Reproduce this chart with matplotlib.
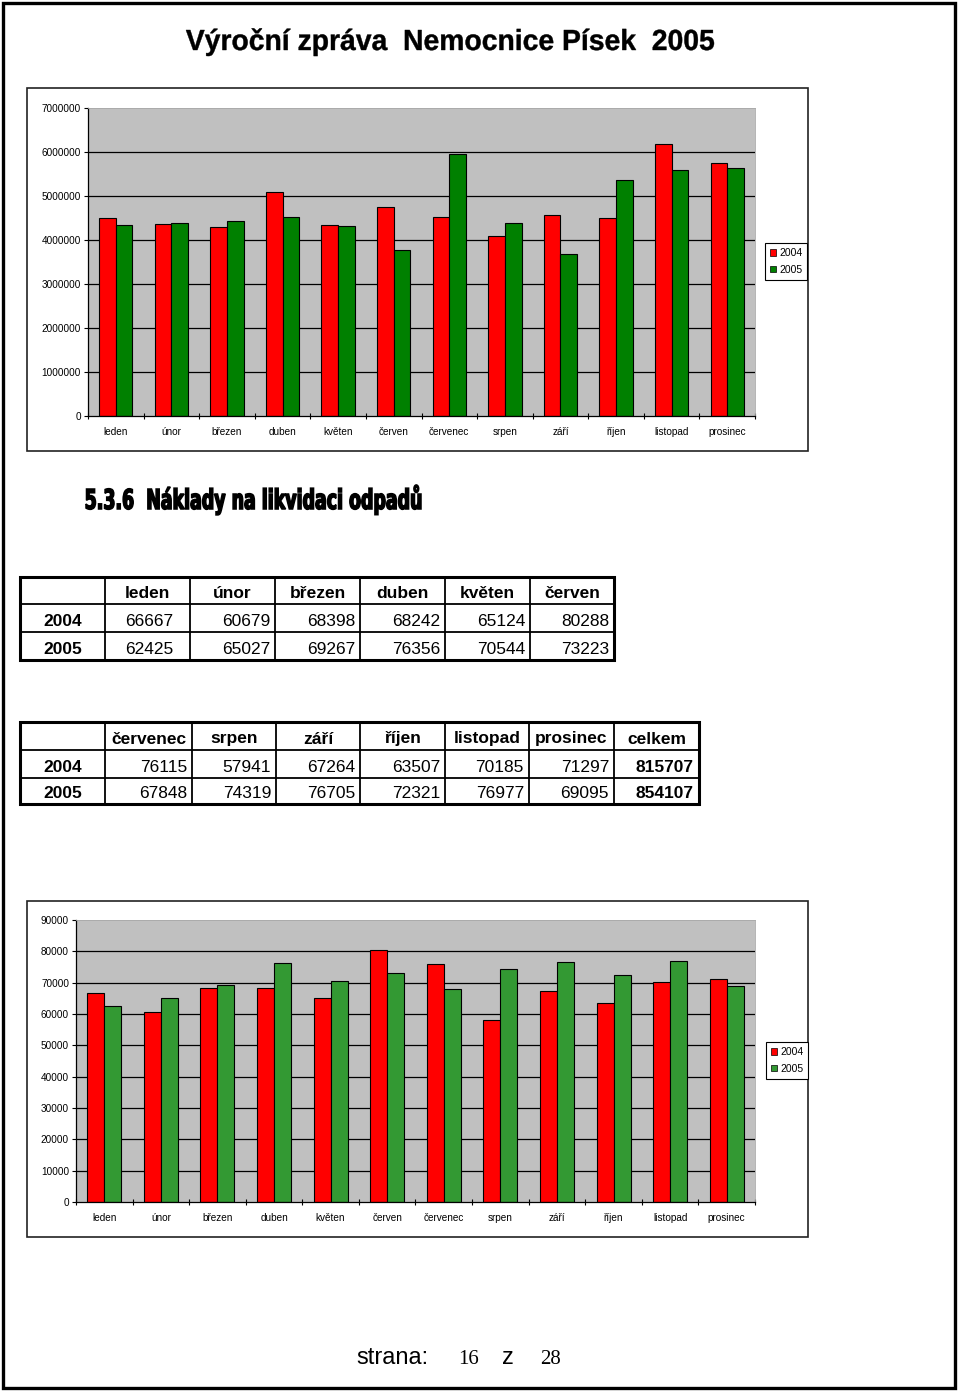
import numpy as np
import matplotlib
matplotlib.use("Agg")
import matplotlib.pyplot as plt
from matplotlib.patches import Rectangle, Patch, PathPatch
from matplotlib.textpath import TextPath
from matplotlib.font_manager import FontProperties
from matplotlib.transforms import Affine2D

plt.rcParams['font.family'] = ['Liberation Sans', 'DejaVu Sans']

# data
months = ['leden', 'únor', 'březen', 'duben', 'květen', 'červen',
          'červenec', 'srpen', 'září', 'říjen', 'listopad', 'prosinec']
years = ['2004', '2005']

# top chart
top_2004 = [4497000, 4368000, 4300000, 5096000, 4346000, 4747000,
            4520000, 4080000, 4565000, 4497000, 6181000, 5756000]
top_2005 = [4346000, 4391000, 4437000, 4520000, 4323000, 3769000,
            5961000, 4391000, 3678000, 5362000, 5582000, 5627000]
top_ticks = [0, 1000000, 2000000, 3000000, 4000000, 5000000, 6000000, 7000000]

# waste disposal costs
odpad_2004 = [66667, 60679, 68398, 68242, 65124, 80288,
              76115, 57941, 67264, 63507, 70185, 71297]
odpad_2005 = [62425, 65027, 69267, 76356, 70544, 73223,
              67848, 74319, 76705, 72321, 76977, 69095]
celkem = [815707, 854107]
bottom_ticks = [0, 10000, 20000, 30000, 40000, 50000, 60000, 70000, 80000, 90000]

title = 'Výroční zpráva  Nemocnice Písek  2005'
heading = '5.3.6  Náklady na likvidaci odpadů'

RED = '#FF0000'
GREEN_TOP = '#008000'
GREEN_BOT = '#339933'
GRAY = '#C0C0C0'

W, H = 960, 1393
fig = plt.figure(figsize=(W / 100, H / 100), dpi=100)


def px(x0, y0, x1, y1):
    return [x0 / W, 1 - y1 / H, (x1 - x0) / W, (y1 - y0) / H]


# overlay in pixel coords
ax0 = fig.add_axes([0, 0, 1, 1])
ax0.set_xlim(0, W)
ax0.set_ylim(H, 0)
ax0.axis('off')

# page border
ax0.add_patch(Rectangle((3, 3), 952, 1385, fill=False, ec='black', lw=2.4))


def squeezed(s, x0, x1, base, cap_h, fp, lw):
    # text drawn as a path, fitted to a width and a cap height
    tp = TextPath((0, 0), s, size=1, prop=fp)
    ext = tp.get_extents()
    cap = TextPath((0, 0), 'N', size=1, prop=fp).get_extents().height
    tr = (Affine2D().translate(-ext.x0, 0)
          .scale((x1 - x0) / ext.width, -cap_h / cap)
          .translate(x0, base) + ax0.transData)
    ax0.add_patch(PathPatch(tp, transform=tr, fc='black', ec='black', lw=lw))


squeezed(title, 186, 714, 50, 20, FontProperties(family='Liberation Sans', weight='bold'), 0.3)
squeezed(heading, 86, 421, 509, 20, FontProperties(family='Liberation Sans Narrow', weight='bold'), 1.1)


def chart(box, frame, v1, v2, green, ticks, legend_xy):
    ax0.add_patch(Rectangle((frame[0], frame[1]), frame[2] - frame[0], frame[3] - frame[1],
                            fill=False, ec='#222222', lw=1.2))
    ax = fig.add_axes(px(*box))
    ax.set_facecolor(GRAY)
    x = np.arange(len(months))
    ax.bar(x - 0.15, v1, 0.3, color=RED, edgecolor='black', lw=0.8, zorder=2)
    ax.bar(x + 0.15, v2, 0.3, color=green, edgecolor='black', lw=0.8, zorder=2)
    ax.set_xlim(-0.5, len(months) - 0.5)
    ax.set_ylim(ticks[0], ticks[-1])
    for t in ticks[1:-1]:
        ax.axhline(t, color='black', lw=0.9, zorder=1)
    for s in ['left', 'bottom']:
        ax.spines[s].set_color('black')
        ax.spines[s].set_linewidth(0.9)
    for s in ['top', 'right']:
        ax.spines[s].set_color('#A8A8A8')
        ax.spines[s].set_linewidth(0.6)
    ax.set_yticks(ticks)
    ax.set_yticklabels([str(t) for t in ticks], fontsize=7.2)
    ax.tick_params(axis='y', direction='out', length=3, width=0.8, pad=2)
    ax.set_xticks(np.arange(len(months) + 1) - 0.5)
    ax.set_xticklabels([])
    ax.tick_params(axis='x', which='major', direction='inout', length=5, width=0.8)
    ax.set_xticks(x, minor=True)
    ax.set_xticklabels(months, minor=True, fontsize=7.2)
    ax.tick_params(axis='x', which='minor', length=0, pad=8)
    handles = [Patch(fc=RED, ec='black', lw=0.5), Patch(fc=green, ec='black', lw=0.5)]
    leg = fig.legend(handles, years, loc='upper left',
                     bbox_to_anchor=(legend_xy[0] / W, 1 - legend_xy[1] / H),
                     fontsize=7.5, frameon=True, fancybox=False, edgecolor='black',
                     framealpha=1, handlelength=0.55, handleheight=0.55,
                     handletextpad=0.3, borderpad=0.5, labelspacing=0.65,
                     borderaxespad=0)
    leg.get_frame().set_linewidth(0.8)
    return ax


chart((88, 108, 755, 416), (27, 88, 808, 451), top_2004, top_2005, GREEN_TOP,
      top_ticks, (765, 243))
chart((76, 920, 755, 1202), (27, 901, 808, 1237), odpad_2004, odpad_2005, GREEN_BOT,
      bottom_ticks, (766, 1042))


def table(xe, ye, header, rows, center_first=False, bold_last=False):
    x0, x1 = xe[0], xe[-1]
    y0, y1 = ye[0], ye[-1]
    for x in xe[1:-1]:
        ax0.plot([x, x], [y0, y1], color='black', lw=1.3, solid_capstyle='butt')
    for y in ye[1:-1]:
        ax0.plot([x0, x1], [y, y], color='black', lw=1.3, solid_capstyle='butt')
    ax0.add_patch(Rectangle((x0, y0), x1 - x0, y1 - y0, fill=False, ec='black', lw=2.2))
    yc = [(ye[i] + ye[i + 1]) / 2 + 3 for i in range(len(ye) - 1)]
    for j, h in enumerate(header):
        ax0.text((xe[j + 1] + xe[j + 2]) / 2, yc[0], h, ha='center', va='center',
                 fontsize=12.5, weight='bold')
    for i, (lab, vals) in enumerate(rows):
        ax0.text((xe[0] + xe[1]) / 2, yc[i + 1], lab, ha='center', va='center',
                 fontsize=12.5, weight='bold')
        for j, v in enumerate(vals):
            bold = bold_last and j == len(vals) - 1
            if center_first and j == 0:
                ax0.text((xe[1] + xe[2]) / 2 + 2, yc[i + 1], str(v), ha='center',
                         va='center', fontsize=12.5)
            else:
                ax0.text(xe[j + 2] - 5, yc[i + 1], str(v), ha='right', va='center',
                         fontsize=12.5, weight='bold' if bold else 'normal')


table([20, 105, 190, 275, 360, 445, 530, 614], [577, 604, 632, 660],
      months[:6], [(years[0], odpad_2004[:6]), (years[1], odpad_2005[:6])],
      center_first=True)
table([20, 105, 192, 276, 360, 445, 529, 614, 699], [722, 750, 778, 804],
      months[6:] + ['celkem'],
      [(years[0], odpad_2004[6:] + [celkem[0]]), (years[1], odpad_2005[6:] + [celkem[1]])],
      bold_last=True)

# footer
ax0.text(356, 1364, 'strana:', ha='left', va='baseline', fontsize=17)
ax0.text(458, 1364, '16', ha='left', va='baseline', fontsize=15, family='Liberation Serif')
ax0.text(502, 1364, 'z', ha='left', va='baseline', fontsize=17)
ax0.text(540, 1364, '28', ha='left', va='baseline', fontsize=15, family='Liberation Serif')

fig.savefig('out.png', dpi=100)
